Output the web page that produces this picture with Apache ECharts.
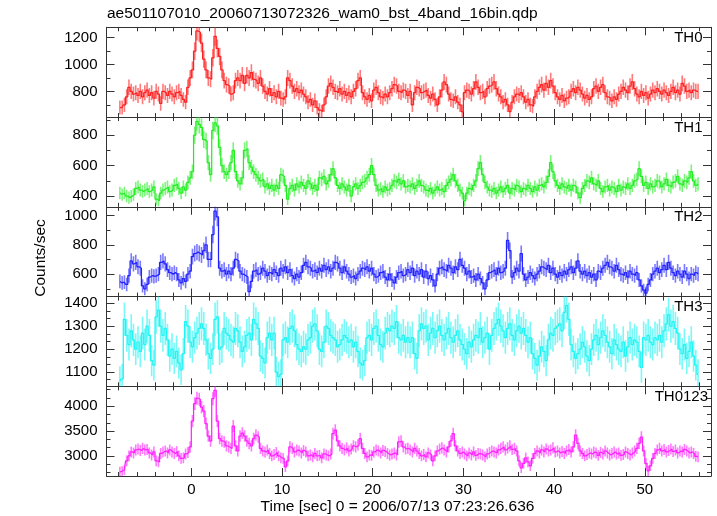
<!DOCTYPE html>
<html><head><meta charset="utf-8">
<script src="https://cdn.jsdelivr.net/npm/echarts@6/dist/echarts.min.js"></script>
<style>html,body{margin:0;padding:0;background:#fff}#c{width:717px;height:516px}</style>
</head><body><div id="c"></div>
<script>
const TITLE = 'ae501107010_20060713072326_wam0_bst_4band_16bin.qdp';
const X_NAME = 'Time [sec] 0 = 2006/07/13 07:23:26.636';
const Y_NAME = 'Counts/sec';
const BIN_START = -8.0;   // start of first bin (s)
const BIN_WIDTH = 0.25;   // bin width (s)
const panelNames = ['TH0', 'TH1', 'TH2', 'TH3', 'TH0123'];

const th0 = [
680,680,700,760, 830,800,780,790, 770,800,760,790, 810,770,790,750,
800,780,710,800, 790,770,800,780, 760,790,800,770, 740,720,830,900,
960,1100,1250,1240, 1160,1040,960,900, 890,1050,1210,1120, 1060,960,880,850,
840,780,790,880, 900,880,920,860, 920,900,940,890, 880,860,900,840,
800,780,820,770, 790,760,800,750, 740,760,900,880, 840,800,820,790,
810,780,760,720, 740,700,730,680, 660,650,700,760, 840,860,830,800,
790,820,780,800, 770,790,760,800, 820,880,900,790, 760,740,770,730,
810,830,790,760, 750,780,760,790, 820,850,840,800, 790,810,800,770,
800,700,790,830, 820,790,800,810, 770,750,780,740, 700,760,810,870,
850,780,740,730, 760,720,700,650, 790,810,800,780, 820,870,830,790,
800,760,820,840, 850,870,820,780, 760,720,740,700, 650,720,760,780,
770,790,760,720, 740,700,690,760, 800,830,850,810, 860,830,880,840,
790,760,740,770, 730,750,760,800, 820,790,830,810, 780,750,770,740,
760,820,840,800, 830,850,790,760, 750,730,760,740, 780,800,830,810,
790,840,870,820, 780,760,800,770, 790,750,780,810, 790,820,800,780,
810,790,770,800, 830,790,810,780, 860,840,800,810, 790,810,800,800
];
const th1 = [
420,410,420,400, 390,400,410,450, 460,440,430,440, 450,430,440,460,
380,370,420,440, 450,460,430,440, 470,480,450,420, 460,440,490,520,
560,800,890,870, 850,770,760,620, 540,830,880,860, 720,600,560,540,
560,620,700,560, 500,480,520,700, 710,620,590,560, 540,520,500,510,
460,480,450,470, 440,470,450,540, 530,470,380,450, 470,440,480,460,
490,470,450,500, 480,450,470,440, 520,510,530,480, 500,540,580,520,
470,450,480,460, 440,470,400,460, 480,450,470,490, 500,520,540,600,
540,470,440,450, 430,460,440,450, 470,500,490,510, 480,500,460,470,
460,480,450,470, 500,470,460,440, 430,450,420,440, 460,440,450,430,
470,490,510,540, 500,470,440,420, 370,420,450,440, 470,500,580,620,
540,490,460,440, 430,450,420,440, 460,430,450,470, 420,450,440,470,
460,430,450,440, 470,450,430,460, 440,470,480,460, 490,530,620,560,
500,470,450,480, 460,450,470,440, 470,460,420,390, 450,470,500,490,
520,480,470,500, 450,430,460,470, 440,460,450,430, 470,440,460,450,
480,450,470,500, 510,580,530,470, 490,450,480,460, 470,500,490,460,
480,510,470,460, 490,500,530,480, 470,500,490,520, 560,500,470,480
];
const th2 = [
550,540,545,530, 590,690,670,680, 650,640,520,500, 530,580,590,585,
590,600,680,690, 670,630,610,600, 610,600,560,540, 570,550,600,620,
720,740,750,740, 730,760,800,700, 700,870,1030,990, 640,620,630,600,
620,600,640,700, 690,620,600,590, 580,480,550,620, 630,600,610,640,
620,590,610,600, 630,610,590,640, 620,650,610,630, 590,570,600,580,
610,660,680,650, 640,620,630,610, 640,620,660,630, 650,620,640,680,
670,640,610,650, 620,600,580,590, 570,600,620,640, 630,650,620,640,
600,580,590,610, 620,580,560,600, 560,540,580,610, 620,590,600,630,
610,640,590,620, 600,630,580,620, 570,590,560,520, 600,640,650,630,
620,660,640,610, 650,630,700,660, 640,600,620,580, 590,560,600,570,
540,500,560,610, 620,630,600,640, 610,620,640,830, 760,580,610,640,
620,740,600,560, 580,610,590,570, 600,620,650,640, 630,660,610,640,
600,580,610,590, 620,600,630,650, 610,640,690,620, 600,620,590,610,
580,600,560,620, 610,640,660,680, 650,640,620,660, 630,600,590,610,
580,620,600,590, 610,560,520,490, 470,530,560,600, 620,640,610,630,
660,630,680,640, 610,590,620,600, 580,620,600,570, 600,590,610,600
];
const th3 = [
1060,1070,1330,1260, 1220,1280,1240,1200, 1230,1190,1270,1220, 1300,1260,1150,1130,
1340,1370,1300,1260, 1290,1240,1170,1200, 1160,1190,1140,1110, 1180,1320,1300,1230,
1210,1250,1270,1290, 1310,1290,1240,1180, 1160,1200,1330,1340, 1200,1210,1290,1270,
1260,1240,1230,1290, 1280,1230,1190,1210, 1260,1270,1240,1330, 1310,1290,1170,1160,
1140,1250,1270,1240, 1270,1100,1080,1090, 1240,1250,1230,1290, 1300,1280,1220,1200,
1190,1210,1200,1240, 1250,1300,1310,1280, 1200,1190,1230,1300, 1290,1260,1250,1240,
1210,1220,1240,1260, 1250,1230,1240,1210, 1230,1190,1140,1130, 1150,1250,1260,1240,
1290,1300,1260,1220, 1210,1270,1290,1280, 1300,1290,1320,1250, 1240,1260,1230,1250,
1230,1250,1180,1160, 1280,1310,1290,1300, 1240,1270,1290,1250, 1280,1300,1260,1240,
1270,1290,1250,1230, 1260,1280,1240,1220, 1200,1180,1230,1210, 1240,1260,1250,1290,
1230,1250,1270,1200, 1260,1290,1310,1330, 1300,1280,1250,1290, 1310,1260,1240,1280,
1300,1270,1290,1260, 1230,1250,1180,1160, 1130,1170,1210,1190, 1150,1240,1270,1260,
1290,1300,1310,1280, 1360,1390,1330,1220, 1190,1160,1180,1200, 1230,1210,1170,1150,
1200,1240,1260,1220, 1250,1280,1260,1230, 1210,1180,1240,1220, 1200,1190,1230,1170,
1210,1250,1220,1240, 1230,1190,1120,1250, 1240,1260,1230,1220, 1250,1240,1260,1230,
1280,1310,1350,1300, 1320,1290,1270,1200, 1180,1220,1160,1190, 1230,1170,1130,1090
];
const th0123 = [
2680,2690,2720,2900, 3000,3080,3060,3120, 3140,3110,3150,3120, 3130,3060,3020,3080,
2900,2880,3050,3080, 3100,3060,3120,3080, 3050,3090,3000,2950, 2960,3040,3070,3180,
3700,4050,4160,4140, 3980,3900,3650,3400, 3300,4150,4320,3700, 3350,3300,3280,3200,
3180,3150,3600,3200, 3100,3400,3460,3400, 3300,3250,3200,3350, 3420,3380,3150,3100,
3080,3120,3050,3000, 3030,3070,3000,2960, 2950,2780,2900,3180, 3150,3080,3120,3100,
3060,3110,3080,3000, 3020,2980,3050,3000, 3010,2960,3040,3020, 3000,3040,3450,3520,
3300,3200,3150,3120, 3160,3100,3140,3200, 3180,3220,3350,3150, 3050,2980,3020,3010,
3080,3120,3100,3060, 3110,3090,3050,3020, 3040,3060,3020,3280, 3300,3180,3140,3150,
3120,3080,3150,3100, 3050,3000,3030,2980, 3060,3020,2900,3000, 3100,3140,3160,3120,
3080,3180,3300,3450, 3200,3100,3050,3080, 3040,3000,3060,3020, 3080,3010,3050,3040,
3020,2980,3040,3070, 3100,3080,3060,3120, 3150,3180,3120,3160, 3200,3130,3150,3100,
2900,2760,2850,2960, 2880,2800,2950,3050, 3100,3060,3120,3080, 3140,3100,3120,3160,
3080,3100,3060,3090, 3050,3100,3130,3080, 3180,3420,3250,3100, 3050,3000,3030,3060,
3040,3080,3060,3010, 3070,3040,3100,3060, 3020,3050,3080,3040, 3060,3010,3030,3080,
3050,3020,3060,3100, 3150,3250,3380,3100, 2850,2700,2800,2950, 3050,3120,3150,3100,
3130,3080,3110,3140, 3090,3120,3060,3100, 3080,3130,3100,3060, 3080,3050,2990,2980
];
const seriesValues = [th0, th1, th2, th3, th0123];
const seriesColors = ['#ff2020', '#22ee22', '#2222ff', '#22f4f4', '#ff22ff'];

const X_RANGE = [-9.35, 57.3];
const xMajorTicks = [0, 10, 20, 30, 40, 50];
const xMinorTicks = [-8, -6, -4, -2, 2, 4, 6, 8, 12, 14, 16, 18, 22, 24, 26, 28, 32, 34, 36, 38, 42, 44, 46, 48, 52, 54, 56];
const yRanges = [[609, 1277], [330, 918], [447, 1059], [1038, 1429], [2595, 4400]];
const yMajorTicks = [[800, 1000, 1200], [400, 600, 800], [600, 800, 1000], [1100, 1200, 1300, 1400], [3000, 3500, 4000]];
const yMinorTicks = [
  [700, 900, 1100], [500, 700, 900], [500, 700, 900],
  [1066.67, 1133.33, 1166.67, 1233.33, 1266.67, 1333.33, 1366.67],
  [2666.67, 2833.33, 3166.67, 3333.33, 3666.67, 3833.33, 4166.67, 4333.33]
];

const FONT = "'Liberation Sans', Arial, Helvetica, sans-serif";
const AXIS_COLOR = '#333';
const PANEL_TOP = 27.3, PANEL_H = 89.75, LEFT = 106.5, RIGHT = 6;
const plainNumber = v => String(Math.round(v));

const grids = [], xAxes = [], yAxes = [], series = [], graphics = [];

function xAxisDef(g, pos, ticks, len, showLine, showLabel) {
  return {
    gridIndex: g, type: 'value', position: pos, min: X_RANGE[0], max: X_RANGE[1],
    axisLine: { show: showLine, onZero: false, lineStyle: { color: AXIS_COLOR, width: 1 } },
    axisTick: { show: true, inside: true, length: len, customValues: ticks, lineStyle: { color: AXIS_COLOR, width: 1 } },
    axisLabel: { show: showLabel, customValues: ticks, formatter: plainNumber, margin: 6, color: '#000', fontSize: 15, fontFamily: FONT },
    splitLine: { show: false }
  };
}
function yAxisDef(g, pos, ticks, len, showLine, showLabel) {
  return {
    gridIndex: g, type: 'value', position: pos, min: yRanges[g][0], max: yRanges[g][1],
    axisLine: { show: showLine, onZero: false, lineStyle: { color: AXIS_COLOR, width: 1 } },
    axisTick: { show: true, inside: true, length: len, customValues: ticks, lineStyle: { color: AXIS_COLOR, width: 1 } },
    axisLabel: { show: showLabel, customValues: ticks, formatter: plainNumber, margin: 9, color: '#000', fontSize: 15, fontFamily: FONT },
    splitLine: { show: false }
  };
}

for (let g = 0; g < 5; g++) {
  grids.push({ left: LEFT, right: RIGHT, top: PANEL_TOP + g * PANEL_H, height: PANEL_H });
  const xBase = xAxes.length, yBase = yAxes.length;
  xAxes.push(xAxisDef(g, 'bottom', xMajorTicks, 8, true, g === 4));
  xAxes.push(xAxisDef(g, 'bottom', xMinorTicks, 4, false, false));
  xAxes.push(xAxisDef(g, 'top', xMajorTicks, 8, true, false));
  xAxes.push(xAxisDef(g, 'top', xMinorTicks, 4, false, false));
  yAxes.push(yAxisDef(g, 'left', yMajorTicks[g], 8, true, true));
  yAxes.push(yAxisDef(g, 'left', yMinorTicks[g], 4, false, false));
  yAxes.push(yAxisDef(g, 'right', yMajorTicks[g], 8, true, false));
  yAxes.push(yAxisDef(g, 'right', yMinorTicks[g], 4, false, false));

  // Poisson error on a count rate: sqrt(rate / binWidth)
  const data = seriesValues[g].map((v, i) => [BIN_START + (i + 0.5) * BIN_WIDTH, v, Math.sqrt(v / BIN_WIDTH)]);
  const col = seriesColors[g];
  series.push({
    type: 'custom', xAxisIndex: xBase, yAxisIndex: yBase, clip: true, silent: true,
    data: data,
    renderItem: function (params, api) {
      const t = api.value(0), v = api.value(1), e = api.value(2);
      const a = api.coord([t, v - e]), b = api.coord([t, v + e]);
      return { type: 'line', shape: { x1: a[0], y1: a[1], x2: b[0], y2: b[1] },
        style: { stroke: col, lineWidth: 1.6, opacity: 0.6 } };
    }
  });
  series.push({
    type: 'line', xAxisIndex: xBase, yAxisIndex: yBase, step: 'middle', clip: true, silent: true,
    showSymbol: false, symbol: 'none', data: data.map(d => [d[0], d[1]]),
    lineStyle: { color: col, width: 1.25 }
  });
  graphics.push({
    type: 'text', right: g === 4 ? 9 : 14.5, top: PANEL_TOP + g * PANEL_H + 3,
    style: { text: panelNames[g], fill: '#000', font: '15px ' + FONT }
  });
}

graphics.push({ type: 'text', left: 107, top: 6, style: { text: TITLE, fill: '#000', font: '15.5px ' + FONT } });
graphics.push({ type: 'text', x: 397.5, y: 507, style: { text: X_NAME, fill: '#000', font: '15.5px ' + FONT, textAlign: 'center', textVerticalAlign: 'middle' } });
graphics.push({ type: 'text', x: 41, y: 258, rotation: Math.PI / 2, style: { text: Y_NAME, fill: '#000', font: '15.5px ' + FONT, textAlign: 'center', textVerticalAlign: 'middle' } });

const chart = echarts.init(document.getElementById('c'), null, { renderer: 'canvas' });
chart.setOption({
  backgroundColor: '#fff', animation: false,
  grid: grids, xAxis: xAxes, yAxis: yAxes, series: series, graphic: graphics
});
</script></body></html>
